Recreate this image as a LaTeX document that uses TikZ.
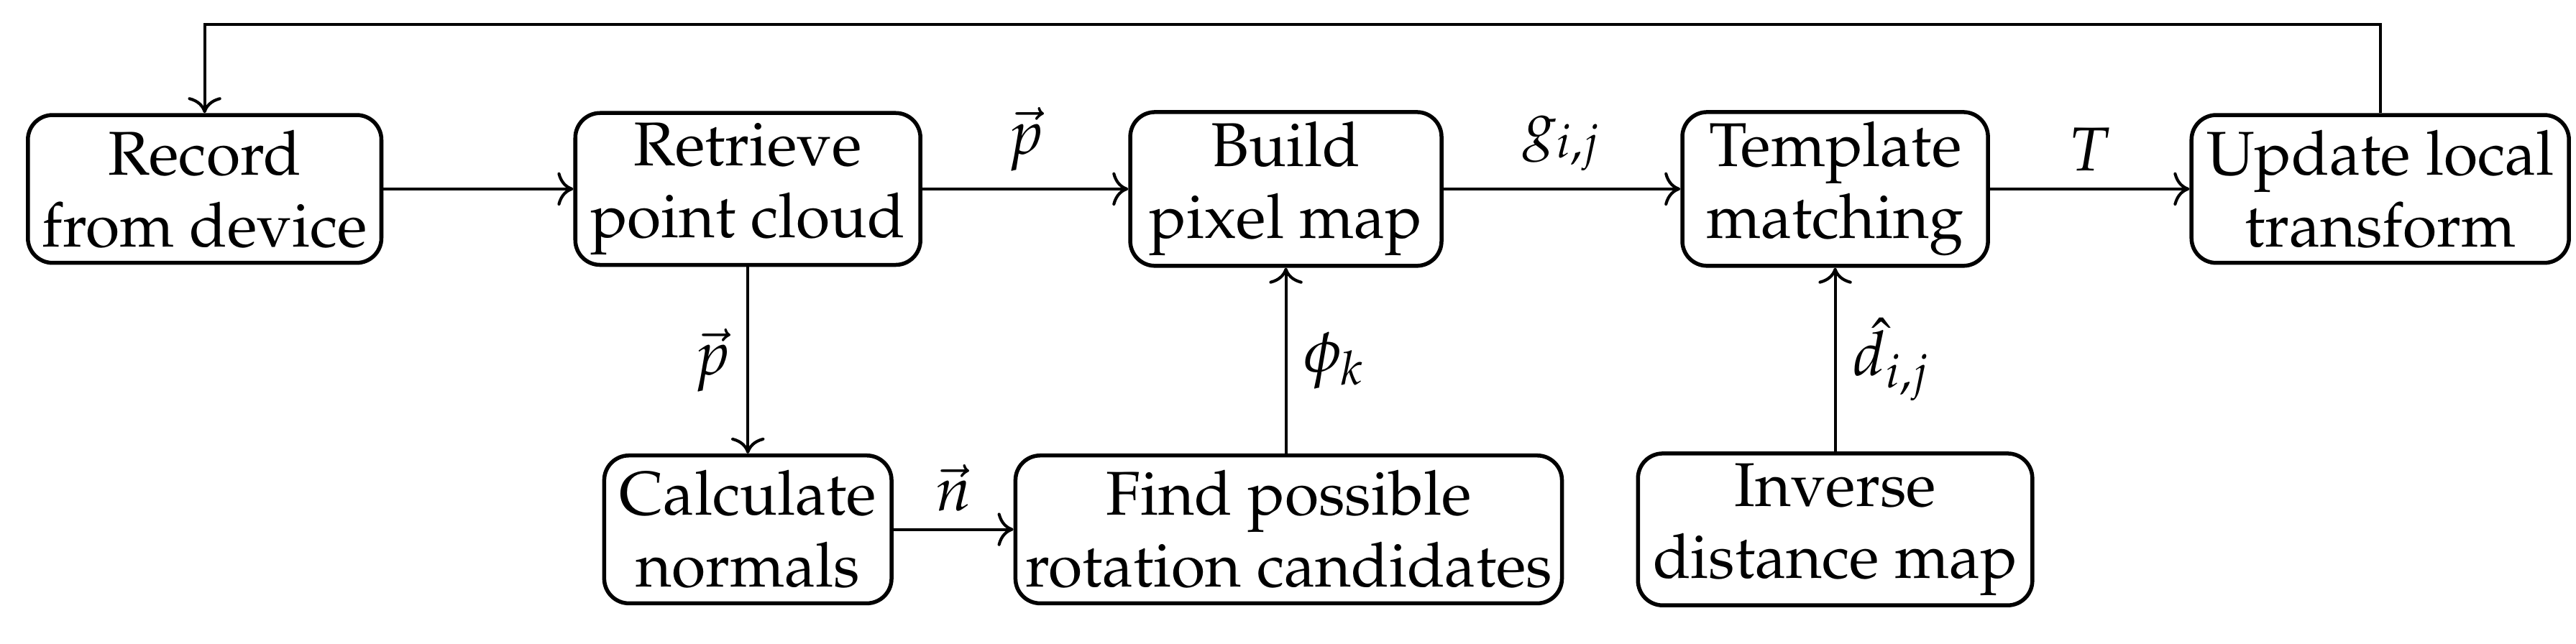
\documentclass[tikz,border=0pt]{standalone}
\usepackage[T1]{fontenc}
\usepackage{mathpazo}
\usetikzlibrary{positioning, calc, arrows.meta}
\begin{document}
\begin{tikzpicture}[
    >={To[scale=1.1]},
    font=\fontsize{12.5}{14.5}\selectfont,
    auto,
    block/.style={draw, thick, rounded corners=5pt, align=center, minimum height=1.05cm, inner sep=2pt},
    flow/.style={->, semithick}
]
\useasboundingbox (0,0) rectangle (18.29,-4.571);

% blocks, top row
\node[block, minimum width=2.51cm] (record) at (1.453,-1.342) {Record\\from device};
\node[block, minimum width=2.45cm] (retrieve) at (5.31,-1.342) {Retrieve\\point cloud};
\node[block, minimum width=2.21cm] (build) at (9.13,-1.342) {Build\\pixel map};
\node[block, minimum width=2.17cm] (template) at (13.03,-1.342) {Template\\matching};
\node[block, minimum width=2.68cm] (update) at (16.90,-1.342) {Update local\\transform};

% blocks, bottom row
\node[block, minimum width=2.04cm] (normals) at (5.31,-3.76) {Calculate\\normals};
\node[block, minimum width=3.83cm] (rotation) at (9.15,-3.76) {Find possible\\rotation candidates};
\node[block, minimum width=2.80cm] (inverse) at (13.03,-3.76) {Inverse\\distance map};

\coordinate (topR) at (update.north |- 0,-0.175);
\coordinate (topL) at (record.north |- 0,-0.175);

% connections
\draw[flow] (record) -- (retrieve);
\draw[flow] (retrieve) -- node {$\vec{p}$} (build);
\draw[flow] (build) -- node {$g_{i,j}$} (template);
\draw[flow] (template) -- node {$T$} (update);
\draw[flow] (retrieve) -- node[swap] {$\vec{p}$} (normals);
\draw[flow] (normals) -- node {$\vec{n}$} (rotation);
\draw[flow] (rotation.north -| build) -- node[swap] {$\phi_k$} (build);
\draw[flow] (inverse) -- node[swap] {$\hat{d}_{i,j}$} (template);
\draw[flow] (update.north) -- (topR) -- (topL) -- (record.north);
\end{tikzpicture}
\end{document}
